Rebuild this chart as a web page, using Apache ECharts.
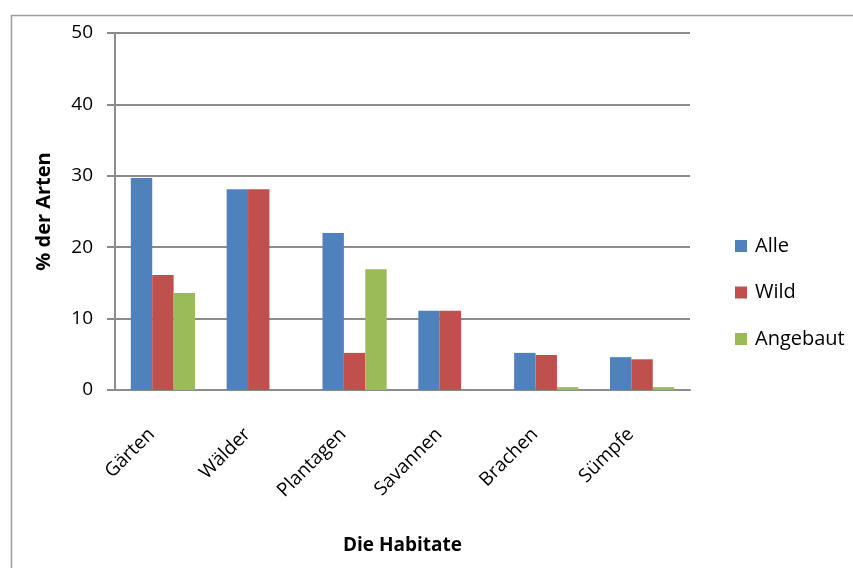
<!DOCTYPE html>
<html lang="de">
  <head>
    <meta charset="UTF-8" />
    <title>Habitate</title>
    <style>
      html, body { margin: 0; padding: 0; background: #fff; }
      #chart { width: 853px; height: 568px; }
    </style>
  </head>
  <body>
    <div id="chart"></div>
    <script src="https://cdn.jsdelivr.net/npm/echarts@6/dist/echarts.min.js"></script>
    <script>
      // Kategorien und Werte (in % der Arten)
      const habitate = ["Gärten", "Wälder", "Plantagen", "Savannen", "Brachen", "Sümpfe"];
      const alle = [29.7, 28.1, 22.0, 11.1, 5.2, 4.6];
      const wild = [16.1, 28.1, 5.2, 11.1, 4.9, 4.3];
      const angebaut = [13.6, 0, 16.9, 0, 0.4, 0.4];
      const yTicks = [0, 10, 20, 30, 40, 50];

      const font = "'Open Sans', sans-serif";
      const grau = "#8c8c8c";

      let mchart = echarts.init(document.getElementById("chart"));
      let option = {
        animation: false,
        textStyle: { fontFamily: font },
        graphic: [
          {
            type: "rect",
            left: 9,
            top: 13,
            shape: { width: 843, height: 570 },
            style: { fill: "none", stroke: "#9a9a9a", lineWidth: 1.5 },
            silent: true,
          },
        ],
        grid: { left: 115, right: 163, top: 33, bottom: 178 },
        legend: {
          orient: "vertical",
          left: 730,
          top: 231,
          itemWidth: 12,
          itemHeight: 12,
          itemGap: 26.5,
          icon: "rect",
          textStyle: {
            fontFamily: font,
            fontSize: 20,
            lineHeight: 20,
            color: "#000",
            padding: [0, 0, 0, 3],
          },
          data: ["Alle", "Wild", "Angebaut"],
        },
        xAxis: {
          type: "category",
          data: habitate,
          name: "Die Habitate",
          nameLocation: "middle",
          nameGap: 146,
          nameTextStyle: { fontFamily: font, fontSize: 19, fontWeight: "bold", color: "#000" },
          axisLine: { lineStyle: { color: grau, width: 2 } },
          axisTick: { show: false },
          axisLabel: {
            rotate: 45,
            margin: 30,
            padding: [0, 16, 0, 0],
            fontFamily: font,
            fontSize: 19,
            color: "#000",
            interval: 0,
          },
        },
        yAxis: {
          type: "value",
          min: yTicks[0],
          max: yTicks[yTicks.length - 1],
          interval: 10,
          name: "% der Arten",
          nameLocation: "middle",
          nameGap: 61,
          nameTextStyle: { fontFamily: font, fontSize: 20, fontWeight: "bold", color: "#000" },
          axisLine: { show: true, lineStyle: { color: grau, width: 2 } },
          axisTick: { show: true, length: 8, lineStyle: { color: grau, width: 2 } },
          axisLabel: { margin: 22, fontFamily: font, fontSize: 19, color: "#000" },
          splitLine: { lineStyle: { color: grau, width: 2 } },
        },
        series: [
          { name: "Alle", type: "bar", data: alle, itemStyle: { color: "#4f81bd" }, barGap: 0, barCategoryGap: "33%" },
          { name: "Wild", type: "bar", data: wild, itemStyle: { color: "#c0504d" }, barGap: 0, barCategoryGap: "33%" },
          { name: "Angebaut", type: "bar", data: angebaut, itemStyle: { color: "#9bbb59" }, barGap: 0, barCategoryGap: "33%" },
        ],
      };
      mchart.setOption(option);
    </script>
  </body>
</html>
